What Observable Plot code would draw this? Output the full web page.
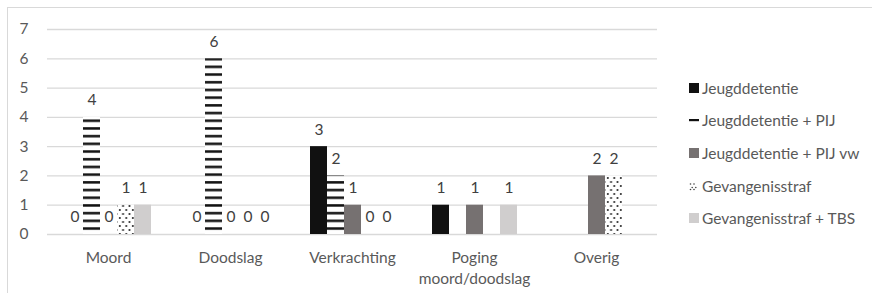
<!DOCTYPE html>
<html>
<head>
<meta charset="utf-8">
<script src="https://cdn.jsdelivr.net/npm/d3@7"></script>
<script src="https://cdn.jsdelivr.net/npm/@observablehq/plot@0.6"></script>
<style>
  body { margin: 0; background: #fff; }
  #wrap { position: relative; width: 872px; height: 293px; overflow: hidden; font-family: Lato, "Open Sans", sans-serif; }
  #frame { position: absolute; left: 7px; top: 7px; width: 880px; height: 300px; border: 1px solid #d9d9d9; box-sizing: border-box; }
  #chart { position: absolute; left: 0; top: 0; }
  #legend { position: absolute; left: 689px; top: 0; font-size: 15.5px; color: #595959; }
  .item { position: absolute; left: 0; white-space: nowrap; display: flex; align-items: center; height: 18px; }
  .item svg { margin-right: 3px; }
</style>
</head>
<body>
<svg width="0" height="0" style="position:absolute">
  <defs>
    <pattern id="stripes" patternUnits="userSpaceOnUse" width="8" height="7.7" y="1">
      <rect width="8" height="7.7" fill="#fff"></rect>
      <rect y="3" width="8" height="2.5" fill="#111"></rect>
    </pattern>
    <pattern id="dots" patternUnits="userSpaceOnUse" width="6.5" height="8">
      <rect width="6.5" height="8" fill="#fff"></rect>
      <circle cx="1.8" cy="2" r="1.05" fill="#2a2a2a"></circle>
      <circle cx="5.05" cy="6" r="1.05" fill="#2a2a2a"></circle>
    </pattern>
  </defs>
</svg>
<div id="wrap">
  <div id="frame"></div>
  <div id="chart"></div>
  <div id="legend"></div>
</div>
<script>
const categories = ["Moord", "Doodslag", "Verkrachting", "Poging moord/doodslag", "Overig"];
const categoryLabels = ["Moord", "Doodslag", "Verkrachting", "Poging\nmoord/doodslag", "Overig"];
const series = ["Jeugddetentie", "Jeugddetentie + PIJ", "Jeugddetentie + PIJ vw", "Gevangenisstraf", "Gevangenisstraf + TBS"];
const seriesFills = ["#111111", "url(#stripes)", "#767171", "url(#dots)", "#d0cece"];
// values per series, in category order (null = no bar, no label)
const jeugddetentie      = [0, 0, 3, 1, null];
const jeugddetentiePIJ   = [4, 6, 2, null, null];
const jeugddetentiePIJvw = [0, 0, 1, 1, 2];
const gevangenisstraf    = [1, 0, 0, null, 2];
const gevangenisTBS      = [1, 0, 0, 1, null];
const yTicks = [0, 1, 2, 3, 4, 5, 6, 7];

const valueArrays = [jeugddetentie, jeugddetentiePIJ, jeugddetentiePIJvw, gevangenisstraf, gevangenisTBS];
const data = [];
series.forEach((s, si) => {
  categories.forEach((c, ci) => {
    const v = valueArrays[si][ci];
    if (v !== null) data.push({category: c, series: s, value: v});
  });
});

const FS = 15.5;
const chart = Plot.plot({
  width: 872,
  height: 293,
  marginTop: 29,
  marginBottom: 59,
  marginLeft: 46,
  marginRight: 214,
  style: {fontFamily: "Lato, 'Open Sans', sans-serif", fontSize: FS + "px", color: "#595959", background: "transparent"},
  fx: {domain: categories, padding: 0, label: null},
  x: {domain: series, paddingInner: 0, paddingOuter: 0.9, axis: null},
  y: {domain: [0, 7], label: null},
  color: {domain: series, range: seriesFills, type: "ordinal"},
  marks: [
    Plot.ruleY(yTicks, {stroke: "#d9d9d9", strokeWidth: 1.3}),
    Plot.barY(data, {fx: "category", x: "series", y: "value", fill: "series"}),
    Plot.text(data, {fx: "category", x: "series", y: "value", text: d => String(d.value), dy: -17, fill: "#404040", fontSize: FS}),
    Plot.axisY({ticks: yTicks, tickFormat: d3.format("d"), tickSize: 0, tickPadding: 19, fontSize: FS, fill: "#595959"}),
    Plot.axisFx({anchor: "bottom", tickSize: 0, tickPadding: 14, fontSize: FS, fill: "#595959", lineHeight: 1.35,
      tickFormat: d => categoryLabels[categories.indexOf(d)]})
  ]
});
document.getElementById("chart").appendChild(chart);

const legendY = [88, 120, 153, 186, 218];
const legend = document.getElementById("legend");
series.forEach((s, i) => {
  const item = document.createElement("div");
  item.className = "item";
  item.style.top = (legendY[i] - 9) + "px";
  const sw = d3.create("svg").attr("width", 10).attr("height", 10);
  if (i === 1) {
    sw.append("rect").attr("x", 0).attr("y", 4).attr("width", 10).attr("height", 2.2).attr("fill", "#111");
  } else if (i === 3) {
    sw.append("rect").attr("width", 10).attr("height", 10).attr("fill", "#fff");
    [[1.5, 3], [5, 3], [3.2, 6.5], [6.8, 6.5], [1.5, 8.5], [5, 8.5]].forEach(([cx, cy]) =>
      sw.append("circle").attr("cx", cx).attr("cy", cy).attr("r", 0.8).attr("fill", "#444"));
  } else {
    sw.append("rect").attr("width", 10).attr("height", 10).attr("fill", seriesFills[i]);
  }
  item.appendChild(sw.node());
  const t = document.createElement("span");
  t.textContent = s;
  item.appendChild(t);
  legend.appendChild(item);
});
</script>
</body>
</html>
